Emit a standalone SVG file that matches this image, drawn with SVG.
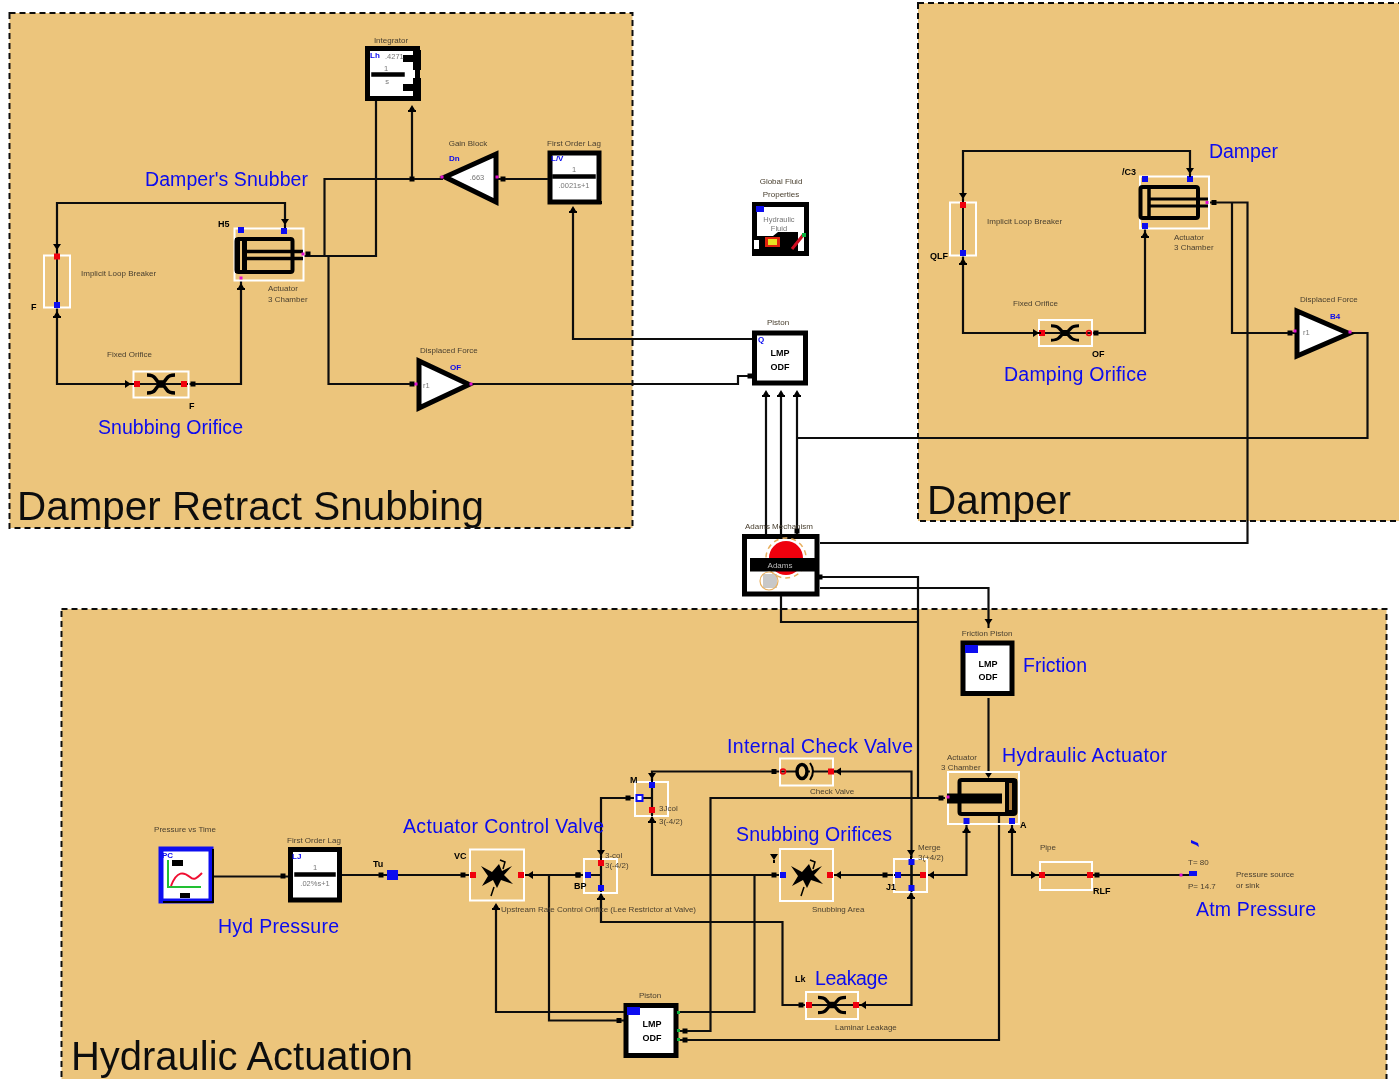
<svg xmlns="http://www.w3.org/2000/svg" width="1399" height="1079" viewBox="0 0 1399 1079">
<style>
text{font-family:"Liberation Sans",Arial,sans-serif}
.panel{fill:#ecc57c;stroke:#111;stroke-width:2;stroke-dasharray:6 4}
.t{font-size:8px;fill:#4a4030}
.tw{font-size:7.5px;fill:#777}
.m{text-anchor:middle}
.b{font-size:19.5px;fill:#0808f0}
.big{font-size:40px;fill:#111}
.id{font-size:9px;font-weight:bold;fill:#000}
.idb{font-size:8px;font-weight:bold;fill:#0808f0}
.cap{font-size:9px;font-weight:bold;fill:#000;text-anchor:middle}
.wire{fill:none;stroke:#111;stroke-width:2.2}
.wb{fill:none;stroke:#fff;stroke-width:2}
.block{fill:#fff;stroke:#000;stroke-width:5}
.bar{stroke:#000;stroke-width:3.5}
.tri{fill:#fff;stroke:#000;stroke-width:5;stroke-linejoin:miter}
.sym{fill:none;stroke:#000;stroke-width:3.6}
.pr{fill:#f00010}.pb{fill:#1010f0}.pm{fill:#e010d0}
.cyl{fill:none;stroke:#000;stroke-width:4}
</style>
<defs>
<filter id="soft" x="0" y="0" width="1399" height="1079" filterUnits="userSpaceOnUse"><feGaussianBlur stdDeviation="0.65"/></filter>
<rect id="rp" class="pr" x="-3" y="-3" width="6" height="6"/>
<rect id="bp" class="pb" x="-3" y="-3" width="6" height="6"/>
<rect id="mp" class="pm" x="-1.5" y="-1.5" width="3" height="3"/>
<rect id="dot" x="-2.5" y="-2.5" width="5" height="5" fill="#000"/>
<path id="ar" d="M-4,-3 L4,-3 L0,3 Z M-1,3 h2 v3 h-2z" fill="#000"/>
<path id="al" d="M3,-4 V4 L-3,0 Z M-5,-1 h3 v2 h-3z" fill="#000"/>
<path id="au" d="M-3,2 L3,2 L0,-3 Z M-4,2 h8 v2 h-8z" fill="#000"/>
<g id="orifice">
<path class="sym" d="M-14,-9 Q-8,-9 -6,-6 L-3,-2 H3 L6,-6 Q8,-9 14,-9 M-14,9 Q-8,9 -6,6 L-3,2 H3 L6,6 Q8,9 14,9"/>
</g>
<g id="valve">
<path d="M-15,-9 L-4,-3 L3,-11 L6,-4 L16,-9 L8,0 L17,9 L5,5 L1,13 L-3,5 L-14,11 L-8,1 Z" fill="#000"/>
<path d="M4,-15 L9,-13 L7,-6 M-2,12 L-5,21" fill="none" stroke="#000" stroke-width="1.5"/>
</g>
</defs>
<g filter="url(#soft)">
<rect width="1399" height="1079" fill="#fff"/>
<rect class="panel" x="9.5" y="13" width="623" height="515"/>
<rect class="panel" x="918" y="3" width="485" height="518"/>
<rect class="panel" x="61.5" y="609" width="1325" height="474"/>

<g id="connectors">
<path class="wire" d="M57,255 V203 H285 V228"/>
<path class="wire" d="M57,307 V384 H133"/>
<path class="wire" d="M188,384 H241 V281"/>
<path class="wire" d="M304,256 H376 V100"/>
<path class="wire" d="M324.5,256 V179 H443"/>
<path class="wire" d="M412,179 V108"/>
<path class="wire" d="M328.5,256 V384 H417"/>
<path class="wire" d="M498,179 H548"/>
<path class="wire" d="M472,384 H738 V376 H752"/>
<path class="wire" d="M752,339 H573 V208"/>
<path class="wire" d="M766,392 V535"/>
<path class="wire" d="M781,392 V535"/>
<path class="wire" d="M797,392 V535"/>
<path class="wire" d="M797,438 H1367.5 V333 H1352"/>
<path class="wire" d="M820,543 H1247.5 V202.5 H1209"/>
<path class="wire" d="M1232,202.5 V333 H1295"/>
<path class="wire" d="M963,202 V151 H1190 V176"/>
<path class="wire" d="M963,256 V333 H1039"/>
<path class="wire" d="M1092,333 H1145 V228"/>
<path class="wire" d="M820,577 H918 V798"/>
<path class="wire" d="M820,588 H988.5 V625"/>
<path class="wire" d="M781,596 V622 H918"/>
<path class="wire" d="M988.5,698 V775"/>
<path class="wire" d="M945,798 H710.5 V1031 H680"/>
<path class="wire" d="M966.5,824 V875 H926"/>
<path class="wire" d="M1012,824 V875 H1040"/>
<path class="wire" d="M999,814 V1040 H680"/>
<path class="wire" d="M1092,875 H1192"/>
<path class="wire" d="M894,875 H833"/>
<path class="wire" d="M780,875 H652 V771.5 H780"/>
<path class="wire" d="M833,771.5 H911.5 V1005 H858"/>
<path class="wire" d="M635,798 H601 V922 H782.5 V1005 H806"/>
<path class="wire" d="M212,876.5 H288"/>
<path class="wire" d="M342,875 H469"/>
<path class="wire" d="M524,875 H583"/>
<path class="wire" d="M549,875 V1020.5 H624"/>
<path class="wire" d="M496,905 V1012 H624"/>
<path class="wire" d="M678,1012 H754.5 V875"/>
<use href="#dot" x="412" y="179" transform="scale(1)"/><use href="#au" x="412" y="108"/><use href="#au" x="573" y="209"/>
<use href="#dot" x="503" y="179"/><use href="#dot" x="412" y="384"/>
<use href="#dot" x="750" y="376"/><use href="#au" x="766" y="393"/><use href="#au" x="781" y="393"/><use href="#au" x="797" y="393"/>
<use href="#dot" x="797" y="531"/><use href="#ar" x="988.5" y="622"/><use href="#dot" x="820" y="577"/>
<use href="#dot" x="1214" y="202.5"/><use href="#dot" x="1290" y="333"/><use href="#dot" x="283" y="876"/><use href="#dot" x="381" y="875"/>
<use href="#dot" x="463" y="875"/><use href="#dot" x="578" y="875"/><use href="#al" x="530" y="875"/>
<use href="#ar" x="988.5" y="775"/><use href="#dot" x="941" y="798"/><use href="#dot" x="885" y="875"/><use href="#al" x="931" y="875"/>
<use href="#dot" x="774" y="771.5"/><use href="#al" x="838" y="771.5"/><use href="#dot" x="774" y="875"/><use href="#al" x="838" y="875"/>
<use href="#dot" x="801" y="1005"/><use href="#al" x="863" y="1005"/><use href="#dot" x="1097" y="875"/>
<use href="#dot" x="685" y="1031"/><use href="#dot" x="685" y="1040"/><use href="#dot" x="619" y="1020.5"/><use href="#au" x="496" y="906"/>
<use href="#dot" x="628" y="798"/>
</g>

<g id="integrator">
<rect class="block" x="367.5" y="48.5" width="50" height="50"/><rect x="381" y="98" width="40" height="3" fill="#000"/>
<rect class="bar" x="373" y="74" width="30" height="1"/>
<rect x="403" y="55" width="10" height="7"/><rect x="403" y="84" width="10" height="7"/>
<path d="M413,50 h8 v20 h-8z M413,78 h8 v22 h-8z" fill="#000"/>
<text class="t m" x="391" y="43">Integrator</text>
<text class="idb" x="370" y="58">Lh</text><text class="tw" x="385" y="59" font-size="7">.4271</text>
<text class="tw m" x="386" y="71">1</text><text class="tw m" x="387" y="84">s</text>
</g>
<g id="gain">
<path class="tri" d="M445,177 L496,154 V202 Z"/>
<use href="#mp" x="442" y="177"/><use href="#mp" x="497" y="177"/>
<text class="t m" x="468" y="146">Gain Block</text><text class="idb" x="449" y="161">Dn</text><text class="tw m" x="477" y="180">.663</text>
</g>
<g id="lag1">
<rect class="block" x="550" y="153" width="49" height="49"/><rect x="548" y="201" width="54" height="3" fill="#000"/>
<rect class="bar" x="554" y="176" width="40" height="1"/>
<text class="t m" x="574" y="146">First Order Lag</text><text class="idb" x="551" y="161">L/V</text>
<text class="tw m" x="574" y="172">1</text><text class="tw m" x="574" y="188">.0021s+1</text>
</g>
<g id="actuator1">
<rect class="wb" x="234.5" y="228.5" width="69" height="52"/>
<rect class="cyl" x="236.5" y="239" width="56" height="33" rx="2"/>
<rect x="235" y="238" width="12" height="35" fill="#000"/><rect x="240" y="241" width="2" height="29" fill="#ecc57c"/>
<path d="M246,251.5 H303 M246,258.5 H303" stroke="#000" stroke-width="3.5"/>
<use href="#bp" x="241" y="230"/><use href="#bp" x="284" y="231"/><use href="#mp" x="241" y="278"/><use href="#mp" x="303" y="254"/>
<use href="#ar" x="285" y="222"/><use href="#dot" x="308" y="254"/><use href="#au" x="241" y="286"/>
<text class="id" x="218" y="227">H5</text>
<text class="t" x="268" y="291">Actuator</text><text class="t" x="268" y="302">3 Chamber</text>
</g>
<g id="breaker1">
<rect class="wb" x="44" y="255.5" width="26" height="52"/>
<path d="M57,255 V307" stroke="#111" stroke-width="2"/>
<use href="#rp" x="57" y="256.5"/><use href="#bp" x="57" y="305"/><use href="#ar" x="57" y="247"/><use href="#au" x="57" y="314"/>
<text class="t" x="81" y="276">Implicit Loop Breaker</text><text class="id" x="31" y="310">F</text>
</g>
<g id="orifice1">
<rect class="wb" x="133.5" y="371.5" width="55" height="26"/>
<path d="M133,384 H188" stroke="#111" stroke-width="2"/>
<use href="#orifice" transform="translate(161,384)"/>
<use href="#rp" x="137" y="384"/><use href="#rp" x="184" y="384"/><use href="#al" x="128" y="384" transform="rotate(180 128 384)"/><use href="#dot" x="193" y="384"/>
<text class="t" x="107" y="357">Fixed Orifice</text><text class="id" x="189" y="409">F</text>
</g>
<g id="force1">
<path class="tri" d="M419,361 V408 L469,384.5 Z"/>
<use href="#mp" x="416" y="384"/><use href="#mp" x="471" y="384"/>
<text class="t" x="420" y="353">Displaced Force</text><text class="idb" x="450" y="370">OF</text><text class="tw" x="423" y="388">r1</text>
</g>
<g id="fluid">
<rect class="block" x="754.5" y="204.5" width="52" height="49"/>
<path d="M753,236 H773 L778,232 H798 V254 H753Z" fill="#000"/>
<rect x="754" y="240" width="5" height="9" fill="#fff"/>
<rect x="765" y="237" width="15" height="10" fill="#e02010"/><rect x="768" y="239" width="9" height="6" fill="#e8e020"/>
<path d="M792,249 L804,234" stroke="#d01020" stroke-width="3"/><rect x="802" y="233" width="4" height="4" fill="#10b040"/>
<rect x="756" y="206" width="8" height="6" fill="#1010f0"/>
<text class="t m" x="781" y="184">Global Fluid</text><text class="t m" x="781" y="197">Properties</text>
<text class="tw m" x="779" y="222">Hydraulic</text><text class="tw m" x="779" y="231">Fluid</text>
</g>
<g id="piston1">
<rect class="block" x="754.5" y="333" width="51" height="50"/>
<text class="t m" x="778" y="325">Piston</text><text class="idb" x="758" y="342">Q</text>
<text class="cap" x="780" y="356">LMP</text><text class="cap" x="780" y="370">ODF</text>
</g>
<g id="adams">
<rect class="block" x="744.5" y="536.5" width="72.5" height="57.5" stroke-width="6"/>
<circle cx="786" cy="558" r="17" fill="#ef0010"/><circle cx="786" cy="558" r="20" fill="none" stroke="#e8b060" stroke-width="1.5" stroke-dasharray="5 4"/>
<rect x="750" y="558" width="69" height="13.5" fill="#000"/>
<rect x="763" y="574" width="14" height="14" fill="#c8c8c8"/><circle cx="769" cy="581" r="9" fill="none" stroke="#e8b060" stroke-width="1.2"/>
<text class="t m" x="779" y="529">Adams Mechanism</text>
<text class="m" x="780" y="568" font-size="8" fill="#bbb">Adams</text>
</g>
<g id="breaker2">
<rect class="wb" x="950" y="202.5" width="26" height="53"/>
<path d="M963,202 V256" stroke="#111" stroke-width="2"/>
<use href="#rp" x="963" y="205"/><use href="#bp" x="963" y="253"/><use href="#ar" x="963" y="196"/><use href="#au" x="963" y="261"/>
<text class="t" x="987" y="224">Implicit Loop Breaker</text><text class="id" x="930" y="259">QLF</text>
</g>
<g id="actuator2">
<rect class="wb" x="1140" y="176.5" width="69" height="52"/>
<rect class="cyl" x="1140.5" y="187" width="57.5" height="31" rx="2"/>
<path d="M1149,187 V218" stroke="#000" stroke-width="3.5"/>
<path d="M1150,199 H1208 M1150,206 H1208" stroke="#000" stroke-width="3"/>
<use href="#bp" x="1145" y="179"/><use href="#bp" x="1190" y="179"/><use href="#bp" x="1145" y="226"/><use href="#mp" x="1207" y="202.5"/>
<use href="#ar" x="1190" y="171"/><use href="#au" x="1145" y="234"/>
<text class="id" x="1122" y="175">/C3</text>
<text class="t" x="1174" y="240">Actuator</text><text class="t" x="1174" y="250">3 Chamber</text>
</g>
<g id="orifice2">
<rect class="wb" x="1039" y="320" width="53" height="26"/>
<path d="M1039,333 H1092" stroke="#111" stroke-width="2"/>
<use href="#orifice" transform="translate(1065,333) scale(1,0.8)"/>
<use href="#rp" x="1042" y="333"/><circle cx="1089" cy="333" r="2.5" fill="none" stroke="#f00010" stroke-width="1.5"/><use href="#al" x="1036" y="333" transform="rotate(180 1036 333)"/><use href="#dot" x="1096" y="333"/>
<text class="t" x="1013" y="306">Fixed Orifice</text><text class="id" x="1092" y="357">OF</text>
</g>
<g id="force2">
<path class="tri" d="M1297,311 V356 L1349,333.5 Z"/>
<use href="#mp" x="1295" y="331"/><use href="#mp" x="1350" y="332"/>
<text class="t" x="1300" y="302">Displaced Force</text><text class="idb" x="1330" y="319">B4</text><text class="tw" x="1303" y="335">r1</text>
</g>
<g id="friction">
<rect class="block" x="963" y="643" width="49" height="50.5"/>
<rect x="965" y="645" width="13" height="8" fill="#1010f0"/>
<text class="cap" x="988" y="667">LMP</text><text class="cap" x="988" y="680">ODF</text>
<text class="t m" x="987" y="636">Friction Piston</text>
</g>
<g id="actuator3">
<rect class="wb" x="948" y="772" width="71" height="52"/>
<rect class="cyl" x="959.5" y="780" width="56" height="34" rx="2"/>
<rect x="947" y="793.5" width="55" height="10" fill="#000"/><rect x="1005" y="779" width="12" height="35" fill="#000"/><rect x="1009" y="783" width="3" height="27" fill="#b08040"/>
<use href="#bp" x="966.5" y="821"/><use href="#bp" x="1012" y="821"/><use href="#mp" x="948" y="797"/>
<use href="#au" x="966.5" y="829"/><use href="#au" x="1012" y="829"/>
<text class="id" x="1020" y="828">A</text>
<text class="t" x="947" y="760">Actuator</text><text class="t" x="941" y="770">3 Chamber</text>
</g>
<g id="check">
<rect class="wb" x="780" y="758.5" width="53" height="27"/>
<path d="M780,771.5 H833" stroke="#111" stroke-width="2"/>
<ellipse cx="802" cy="771.5" rx="5" ry="7" fill="#ecc57c" stroke="#000" stroke-width="3.5"/>
<path d="M810,763 Q816,771 810,780" fill="#ecc57c" stroke="#000" stroke-width="2"/>
<circle cx="783" cy="771.5" r="2.5" fill="none" stroke="#f00010" stroke-width="1.5"/><use href="#rp" x="831" y="771.5"/>
<text class="t" x="810" y="794">Check Valve</text>
</g>
<g id="snub">
<rect class="wb" x="780" y="849" width="53" height="52"/>
<use href="#valve" x="806" y="875"/>
<use href="#bp" x="783" y="875"/><use href="#rp" x="830" y="875"/><use href="#ar" x="774" y="857"/>
<text class="t" x="812" y="912">Snubbing Area</text>
</g>
<g id="merge">
<rect class="wb" x="894" y="859" width="33" height="33"/>
<path d="M911.5,859 V892 M894,875 H926" stroke="#111" stroke-width="2"/>
<use href="#bp" x="911.5" y="862"/><use href="#bp" x="898" y="875"/><use href="#rp" x="923" y="875"/><use href="#bp" x="911.5" y="888"/>
<use href="#ar" x="911" y="853"/><use href="#au" x="911" y="895"/>
<text class="t" x="918" y="850">Merge</text><text class="t" x="918" y="860">3(+4/2)</text><text class="id" x="886" y="890">J1</text>
</g>
<g id="leak">
<rect class="wb" x="806" y="992" width="52" height="27"/>
<path d="M806,1005 H858" stroke="#111" stroke-width="2"/>
<use href="#orifice" transform="translate(832,1005) scale(1,0.85)"/>
<use href="#rp" x="809" y="1005"/><use href="#rp" x="856" y="1005"/>
<text class="t" x="835" y="1030">Laminar Leakage</text><text class="id" x="795" y="982">Lk</text>
</g>
<g id="pipe">
<rect class="wb" x="1040" y="862" width="52" height="28"/>
<path d="M1040,875 H1092" stroke="#111" stroke-width="2"/>
<use href="#rp" x="1042" y="875"/><use href="#rp" x="1090" y="875"/><use href="#al" x="1034" y="875" transform="rotate(180 1034 875)"/>
<text class="t" x="1040" y="850">Pipe</text><text class="id" x="1093" y="894">RLF</text>
</g>
<g id="source">
<rect x="1189" y="871" width="8" height="5" fill="#1010f0"/><use href="#mp" x="1181" y="875"/>
<path d="M1191,840 l7,3 l1,4 l-3,-2 l-5,-2z" fill="#1010f0"/>
<text class="t" x="1188" y="865">T=   80</text><text class="t" x="1188" y="889">P=   14.7</text>
<text class="t" x="1236" y="877">Pressure source</text><text class="t" x="1236" y="888">or sink</text>
</g>
<g id="split1">
<rect class="wb" x="635" y="782" width="33" height="34"/>
<path d="M652,782 V816 M639,798 H652" stroke="#111" stroke-width="2"/>
<use href="#bp" x="652" y="785"/><rect x="636.5" y="795" width="6" height="6" fill="#fff" stroke="#1010f0" stroke-width="2"/><use href="#rp" x="652" y="810"/>
<use href="#ar" x="652" y="776"/><use href="#au" x="652" y="819"/>
<text class="t" x="659" y="811">3Jcol</text><text class="t" x="659" y="824">3(-4/2)</text><text class="id" x="630" y="783">M</text>
</g>
<g id="split2">
<rect class="wb" x="584" y="859" width="33" height="34"/>
<path d="M601,859 V892 M587,875 H601" stroke="#111" stroke-width="2"/>
<use href="#rp" x="601" y="863"/><use href="#bp" x="588" y="875"/><use href="#bp" x="601" y="888"/>
<use href="#ar" x="601" y="853"/><use href="#au" x="601" y="896"/><use href="#dot" x="578" y="875"/>
<text class="t" x="605" y="858">3-col</text><text class="t" x="605" y="868">3(-4/2)</text><text class="id" x="574" y="889">BP</text>
</g>
<g id="control">
<rect class="wb" x="470" y="849.5" width="54" height="51"/>
<use href="#valve" x="496" y="875"/>
<use href="#rp" x="473" y="875"/><use href="#rp" x="521" y="875"/>
<text class="id" x="454" y="859">VC</text>
<text class="t" x="501" y="912">Upstream Rate Control Orifice (Lee Restrictor at Valve)</text>
</g>
<g id="blueport"><rect x="387" y="870" width="11" height="10" fill="#1010f0"/><text class="id" x="373" y="867">Tu</text></g>
<g id="pressure">
<rect x="161" y="849" width="50" height="52" fill="#fff" stroke="#1010f0" stroke-width="5"/><rect x="163" y="901" width="50" height="2" fill="#000"/><rect x="212" y="849" width="2" height="54" fill="#000"/>
<path d="M168,860 V887 H201" fill="none" stroke="#20c030" stroke-width="2"/>
<path d="M171,886 C177,870 184,872 190,877 C194,881 197,878 202,873" fill="none" stroke="#f01030" stroke-width="2"/>
<rect x="172" y="860" width="11" height="6" fill="#000"/><rect x="180" y="893" width="10" height="5" fill="#000"/>
<text class="idb" x="162" y="858">PC</text>
<text class="t m" x="185" y="832">Pressure vs Time</text>
</g>
<g id="lag2">
<rect class="block" x="290.5" y="849.5" width="49" height="50.5"/><rect x="289" y="899" width="53" height="3" fill="#000"/>
<rect class="bar" x="296" y="874" width="38" height="1"/>
<text class="t m" x="314" y="843">First Order Lag</text><text class="idb" x="292" y="859">LJ</text>
<text class="tw m" x="315" y="870">1</text><text class="tw m" x="315" y="886">.02%s+1</text>
</g>
<g id="piston2">
<rect class="block" x="626" y="1005.5" width="50" height="50"/>
<rect x="627" y="1007" width="13" height="8" fill="#1010f0"/>
<text class="cap" x="652" y="1027">LMP</text><text class="cap" x="652" y="1041">ODF</text>
<text class="t m" x="650" y="998">Piston</text>
<rect x="677" y="1011" width="3" height="3" fill="#10b040"/><rect x="677" y="1029" width="3" height="3" fill="#10b040"/><rect x="677" y="1038" width="3" height="3" fill="#10b040"/>
</g>

<g id="labels">
<text class="b" x="145" y="186" textLength="163">Damper's Snubber</text>
<text class="b" x="98" y="434" textLength="145">Snubbing Orifice</text>
<text class="b" x="1209" y="158" textLength="69">Damper</text>
<text class="b" x="1004" y="381" textLength="143">Damping Orifice</text>
<text class="b" x="1023" y="672" textLength="64">Friction</text>
<text class="b" x="1002" y="762" textLength="165">Hydraulic Actuator</text>
<text class="b" x="727" y="753" textLength="186">Internal Check Valve</text>
<text class="b" x="403" y="833" textLength="201">Actuator Control Valve</text>
<text class="b" x="736" y="841" textLength="156">Snubbing Orifices</text>
<text class="b" x="815" y="985" textLength="73">Leakage</text>
<text class="b" x="218" y="933" textLength="121">Hyd Pressure</text>
<text class="b" x="1196" y="916" textLength="120">Atm Pressure</text>
<text class="big" x="17" y="520" textLength="467" lengthAdjust="spacingAndGlyphs">Damper Retract Snubbing</text>
<text class="big" x="927" y="514" textLength="144" lengthAdjust="spacingAndGlyphs">Damper</text>
<text class="big" x="71" y="1070" textLength="342" lengthAdjust="spacingAndGlyphs">Hydraulic Actuation</text>
</g>
</g>
</svg>
